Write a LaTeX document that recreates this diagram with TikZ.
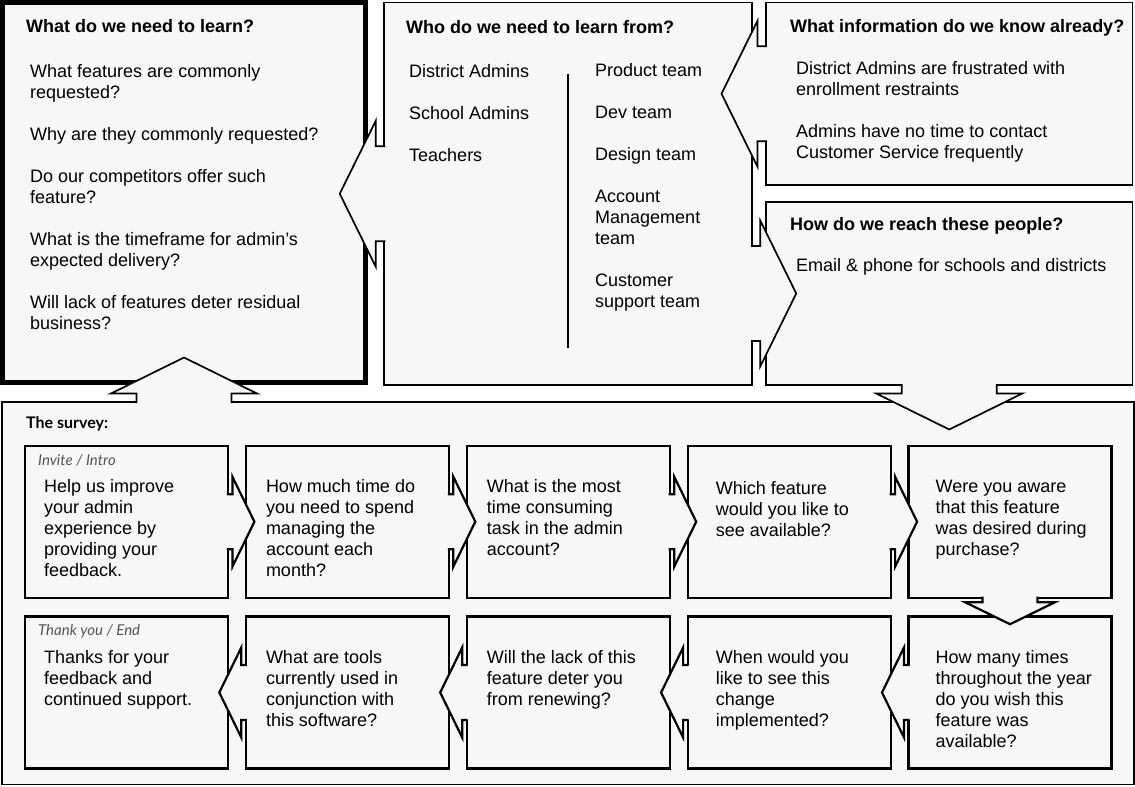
\documentclass[tikz,border=0pt]{standalone}
\usepackage{fontspec}
\setmainfont{Liberation Sans}
\newfontfamily\surveyfont{Lato}
\usetikzlibrary{positioning}

\definecolor{panelgray}{HTML}{F7F7F7}
\definecolor{notegray}{HTML}{555555}

\tikzset{
  panel/.style={draw,fill=panelgray,line width=1.7pt,inner sep=0pt,outer sep=0pt},
  keypanel/.style={panel,line width=5pt},
  qbox/.style={panel,line width=2.2pt,minimum width=203pt,minimum height=152pt},
  heading/.style={font=\fontsize{18}{21}\selectfont\bfseries,inner sep=0pt,anchor=base west},
  body/.style={font=\fontsize{18}{21}\selectfont,align=left,inner sep=0pt,anchor=north west},
  note/.style={font=\surveyfont\itshape\fontsize{15}{17}\selectfont,text=notegray,inner sep=0pt,anchor=base west},
  divider/.style={line width=1.6pt},
  bigtab/.code={\def\tabw{47.5}\def\tabh{73}\def\tabs{8.5}\def\tabl{44.5}},
  smalltab/.code={\def\tabw{27.5}\def\tabh{45}\def\tabs{4.5}\def\tabl{26.5}},
}

% arrow tab out of a box: [line], size, start point, direction
\newcommand{\tabarrow}[4][line width=1.7pt]{%
  \begin{scope}[shift={(#3)},rotate=#4,#2]
    \fill[panelgray] (-1.5,-\tabw) -- (\tabs,-\tabw) -- (\tabs,-\tabh) -- (\tabl,0)
      -- (\tabs,\tabh) -- (\tabs,\tabw) -- (-1.5,\tabw) -- cycle;
    \draw[#1] (-1,-\tabw) -- (\tabs,-\tabw) -- (\tabs,-\tabh) -- (\tabl,0)
      -- (\tabs,\tabh) -- (\tabs,\tabw) -- (-1,\tabw);
  \end{scope}}

\begin{document}
\begin{tikzpicture}[x=1pt,y=1pt,node distance={170.8pt and 220.9pt},on grid]
  \useasboundingbox (0,0) rectangle (1135,-787);
  \fill[white] (0,0) rectangle (1135,-787);
  % planning boxes
  \node[keypanel,minimum width=363pt,minimum height=380pt] (learn) at (184,-192.5) {};
  \node[panel,minimum width=367.5pt,minimum height=382.5pt] (who) at (568,-193.75) {};
  \node[panel,minimum width=366.5pt,minimum height=182.5pt] (know) at (949.25,-93.75) {};
  \node[panel,minimum width=366.5pt,minimum height=183pt] (reach) at (949.25,-293.5) {};
  \node[panel,minimum width=1132pt,minimum height=382.5pt] (survey) at (568,-593.25) {};
  % survey steps
  \node[qbox] (q1) at (126.4,-521.7) {};
  \node[qbox,right=of q1] (q2) {};
  \node[qbox,right=of q2] (q3) {};
  \node[qbox,right=of q3] (q4) {};
  \node[qbox,right=of q4] (q5) {};
  \node[qbox,below=of q5] (q6) {};
  \node[qbox,left=of q6] (q7) {};
  \node[qbox,left=of q7] (q8) {};
  \node[qbox,left=of q8] (q9) {};
  \node[qbox,left=of q9] (q10) {};
  % tabs
  \tabarrow{bigtab}{who.west}{180}
  \tabarrow{bigtab}{know.west}{180}
  \tabarrow{bigtab}{who.east |- reach.west}{0}
  \tabarrow{bigtab}{reach.south}{-90}
  \tabarrow{bigtab}{survey.north -| learn.south}{90}
  \foreach \from in {q1,q2,q3,q4}
    {\tabarrow[line width=2.2pt]{smalltab}{\from.east}{0}}
  \tabarrow[line width=2.2pt]{smalltab}{q5.south}{-90}
  \foreach \from in {q6,q7,q8,q9}
    {\tabarrow[line width=2.2pt]{smalltab}{\from.west}{180}}
  \draw[divider] ([yshift=-71pt]who.north) -- ([yshift=37pt]who.south);
  % texts
  \node[heading] (learnhead) at (26,-32.5) {What do we need to learn?};
  \node[body] (learnlist) at (30,-64.5) {What features are commonly\\requested?\\[21pt]Why are they commonly requested?\\[21pt]Do our competitors offer such\\feature?\\[21pt]What is the timeframe for admin’s\\expected delivery?\\[21pt]Will lack of features deter residual\\business?};
  \node[heading] (whohead) at (406,-33) {Who do we need to learn from?};
  \node[body] (users) at (409,-64.5) {District Admins\\[21pt]School Admins\\[21pt]Teachers};
  \node[body] (teams) at (595,-63.5) {Product team\\[21pt]Dev team\\[21pt]Design team\\[21pt]Account\\Management\\team\\[21pt]Customer\\support team};
  \node[heading] (knowhead) at (790,-32.5) {What information do we know already?};
  \node[body] (facts) at (796,-61.5) {District Admins are frustrated with\\enrollment restraints\\[21pt]Admins have no time to contact\\Customer Service frequently};
  \node[heading] (reachhead) at (790,-230.5) {How do we reach these people?};
  \node[body] (channels) at (796,-258.5) {Email \& phone for schools and districts};
  \node[font=\surveyfont\bfseries\fontsize{16}{19}\selectfont,inner sep=0pt,anchor=base west] (surveyhead) at (26,-428.5) {The survey:};
  \node[note] (intro) at ([shift={(13,-19.3)}]q1.north west) {Invite / Intro};
  \node[body] (t1) at ([shift={(19,-34)}]q1.north west) {Help us improve\\your admin\\experience by\\providing your\\feedback.};
  \node[body] (t2) at ([shift={(20,-34)}]q2.north west) {How much time do\\you need to spend\\managing the\\account each\\month?};
  \node[body] (t3) at ([shift={(20,-34)}]q3.north west) {What is the most\\time consuming\\task in the admin\\account?};
  \node[body] (t4) at ([shift={(28,-36)}]q4.north west) {Which feature\\would you like to\\see available?};
  \node[body] (t5) at ([shift={(27,-34)}]q5.north west) {Were you aware\\that this feature\\was desired during\\purchase?};
  \node[body] (t6) at ([shift={(27,-34)}]q6.north west) {How many times\\throughout the year\\do you wish this\\feature was\\available?};
  \node[body] (t7) at ([shift={(28,-34)}]q7.north west) {When would you\\like to see this\\change\\implemented?};
  \node[body] (t8) at ([shift={(20,-34)}]q8.north west) {Will the lack of this\\feature deter you\\from renewing?};
  \node[body] (t9) at ([shift={(20,-34)}]q9.north west) {What are tools\\currently used in\\conjunction with\\this software?};
  \node[note] (outro) at ([shift={(13,-19.3)}]q10.north west) {Thank you / End};
  \node[body] (t10) at ([shift={(19,-34)}]q10.north west) {Thanks for your\\feedback and\\continued support.};
\end{tikzpicture}
\end{document}
